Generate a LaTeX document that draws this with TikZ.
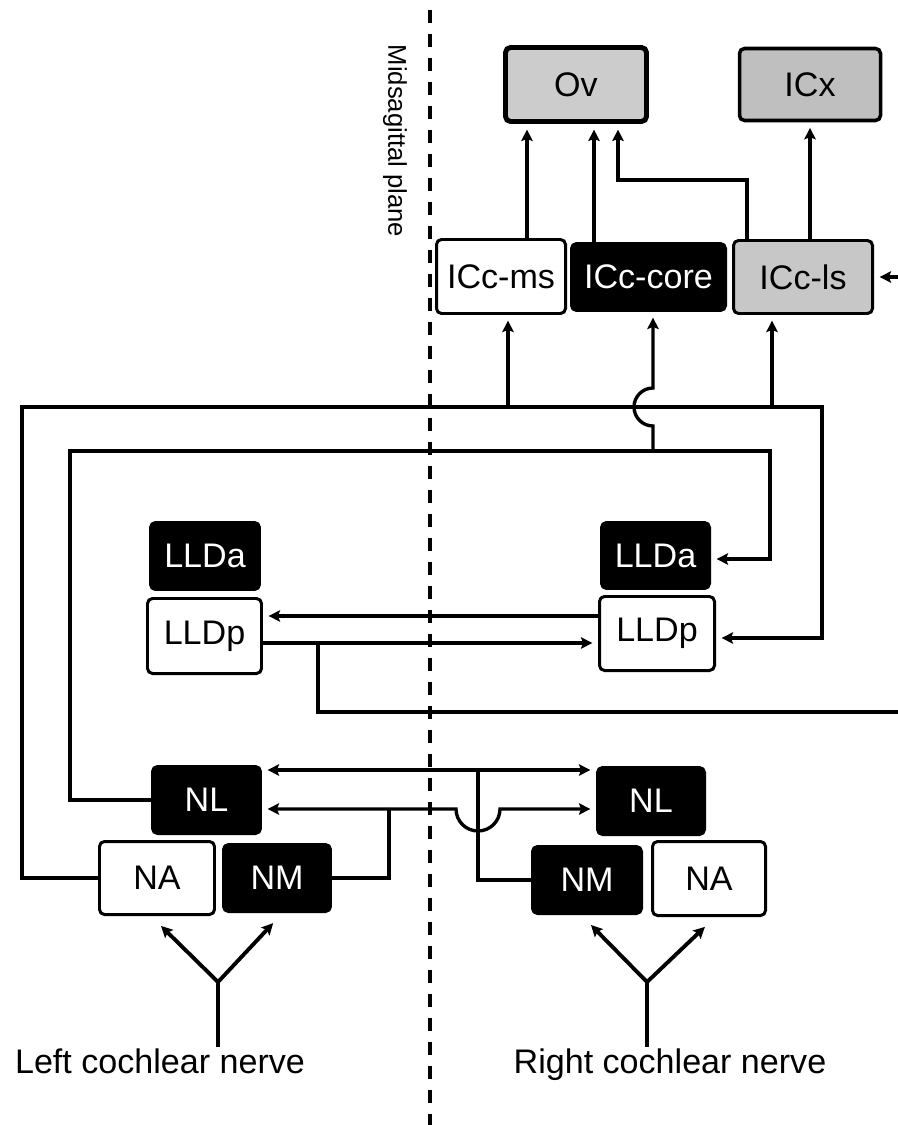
\documentclass[tikz,border=0pt]{standalone}
\usepackage{fontspec}
\setmainfont{Liberation Sans}
\usetikzlibrary{arrows.meta,calc}
\newcommand\boxfont{\fontsize{19.4pt}{22pt}\selectfont}
\newcommand\midfont{\fontsize{14.6pt}{17pt}\selectfont}
\begin{document}
\begin{tikzpicture}[x=0.02cm,y=-0.02cm,
  line width=1.9pt,
  tip/.tip={Stealth[length=6.5pt,width=6.5pt,inset=1.2pt]},
  arr/.style={-tip, shorten >=3.2pt},
  darr/.style={tip-tip, shorten >=3.2pt, shorten <=3.2pt},
  sz/.style 2 args={minimum width=#1*0.02cm, minimum height=#2*0.02cm},
  box/.style={rounded corners=0.1cm, inner sep=0pt, font=\boxfont, line width=1.7pt},
  wbox/.style={box, draw, fill=white},
  bbox/.style={box, draw, fill=black, text=white},
  gbox/.style={box, draw, fill=black!22},
  lbl/.style={font=\boxfont, inner sep=0pt, anchor=base},
]
\useasboundingbox (0,0) rectangle (898,1125);

% midsagittal plane
\coordinate (mtop) at (430,10);
\coordinate (mbot) at (430,1125);
\draw[line width=2.2pt, dash pattern=on 0.26cm off 0.22cm] (mtop) -- (mbot);
\node[font=\midfont, rotate=-90, inner sep=0pt] (mid) at (395,141) {Midsagittal plane};

% boxes
\node[gbox, sz={141}{74}, line width=2.8pt, fill=black!20] (Ov) at (576,84.5) {Ov};
\node[gbox, sz={141}{72}, line width=2pt, fill=black!25] (ICx) at (810,84.5) {ICx};
\node[wbox, sz={129}{74}] (ICcms) at (501,276.5) {ICc-ms};
\node[bbox, sz={154}{67}] (ICccore) at (648.5,277) {ICc-core};
\node[gbox, sz={139}{73}] (ICcls) at (803,277) {ICc-ls};
\node[bbox, sz={109}{67}] (LLDaL) at (205,556) {LLDa};
\node[wbox, sz={114}{75}] (LLDpL) at (204.5,636) {LLDp};
\node[bbox, sz={108}{66}] (LLDaR) at (655.5,555.5) {LLDa};
\node[wbox, sz={115}{74}] (LLDpR) at (657,633.5) {LLDp};
\node[bbox, sz={108}{67}] (NLL) at (206.5,800) {NL};
\node[wbox, sz={115}{73}] (NAL) at (157,878) {NA};
\node[bbox, sz={107}{67}] (NML) at (277,878) {NM};
\node[bbox, sz={107}{67}] (NLR) at (651,801) {NL};
\node[bbox, sz={109}{67}] (NMR) at (587,880) {NM};
\node[wbox, sz={113}{74}] (NAR) at (709,878.5) {NA};

% nerve labels
\node[lbl] (Ltxt) at (160,1073) {Left cochlear nerve};
\node[lbl] (Rtxt) at (670,1073) {Right cochlear nerve};

% IC to Ov / ICx
\draw[arr] ([xshift=0.52cm]ICcms.north) -- ([xshift=0.52cm]ICcms.north |- Ov.south);
\draw[arr] ([xshift=-1.09cm]ICccore.north) -- ([xshift=-1.09cm]ICccore.north |- Ov.south);
\draw[arr] ([xshift=-1.12cm]ICcls.north) |- ([xshift=0.84cm,yshift=-1.12cm]Ov.south) -- ([xshift=0.84cm]Ov.south);
\draw[arr] (ICx.south |- ICcls.north) -- (ICx.south);
\coordinate (inls) at (898,277);
\draw[arr] (inls) -- (ICcls.east);

% upper bus (from NA left)
\coordinate (ub1) at (22,407);
\coordinate (ub2) at (822,407);
\draw[arr] (NAL.west) -| (ub1) -- (ub2) |- ([yshift=-0.09cm]LLDpR.east);
\draw[arr] ([xshift=0.14cm]ICcms.south |- ub1) -- ([xshift=0.14cm]ICcms.south);
\draw[arr] ([xshift=-0.62cm]ICcls.south |- ub1) -- ([xshift=-0.62cm]ICcls.south);

% lower bus (from NL left)
\coordinate (lb1) at (70,451);
\coordinate (lb2) at (770,451);
\draw[arr] (NLL.west) -| (lb1) -- (lb2) |- ([yshift=-0.07cm]LLDaR.east);
\draw[arr] ([xshift=0.09cm]ICccore.south |- lb1) -- ([xshift=0.09cm,yshift=-0.38cm]ICccore.south |- ub1)
  arc[start angle=-90, end angle=-270, radius=0.38cm] -- ([xshift=0.09cm]ICccore.south);

% LLDp connections
\draw[arr] ([yshift=0.35cm]LLDpR.west) -- ([yshift=0.35cm]LLDpR.west -| LLDpL.east);
\draw[arr] ([yshift=-0.14cm]LLDpL.east) -- ([yshift=-0.14cm]LLDpL.east -| LLDpR.west);
\coordinate (lo) at (898,712);
\draw ([xshift=1.1cm,yshift=-0.14cm]LLDpL.east) |- (lo);

% NL connections
\draw[darr] ([yshift=0.6cm]NLL.east) -- ([yshift=0.6cm]NLL.east -| NLR.west);
\coordinate (vt) at (478,770);
\draw (vt) |- (NMR.west);
\coordinate (lj) at (389,809);
\draw (NML.east) -| (lj);
\draw[arr] (lj) -- ([yshift=-0.18cm]NLL.east);
\draw[arr] (lj) -- ([xshift=-0.44cm]vt |- lj) arc[start angle=180, end angle=360, radius=0.44cm]
  -- ([yshift=-0.18cm]NLL.east -| NLR.west);

% cochlear nerve inputs
\coordinate (LJ) at (218,982);
\coordinate (RJ) at (647,982);
\draw (LJ |- Ltxt.north) -- (LJ);
\draw (RJ |- Rtxt.north) -- (RJ);
\draw[arr, line width=2.2pt] (LJ) -- ([yshift=-0.12cm]NAL.south);
\draw[arr, line width=2.2pt] (LJ) -- ([yshift=-0.12cm]NML.south);
\draw[arr, line width=2.2pt] (RJ) -- ([yshift=-0.12cm]NMR.south);
\draw[arr, line width=2.2pt] (RJ) -- ([yshift=-0.12cm]NAR.south);
\end{tikzpicture}
\end{document}
